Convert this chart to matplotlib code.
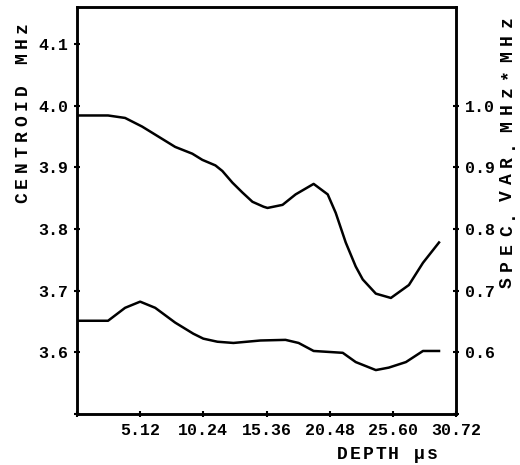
import matplotlib.pyplot as plt

# depth in microseconds and the two traces
depth_top = [0, 2.52, 3.90, 5.28, 6.58, 7.96, 9.35, 10.16, 11.22, 11.78, 12.60,
             13.41, 14.22, 15.12, 15.44, 16.66, 17.72, 19.18, 20.32, 20.97,
             21.78, 22.59, 23.16, 24.22, 25.44, 26.90, 28.04, 29.34]
centroid = [3.984, 3.984, 3.980, 3.966, 3.950, 3.933, 3.922, 3.912, 3.903,
            3.894, 3.875, 3.859, 3.844, 3.836, 3.834, 3.839, 3.856, 3.873,
            3.856, 3.826, 3.778, 3.739, 3.718, 3.695, 3.688, 3.709, 3.745, 3.778]

depth_low = [0, 2.52, 3.90, 5.12, 6.34, 7.96, 9.43, 10.24, 11.38, 12.68, 14.87,
             16.90, 17.96, 19.18, 21.54, 22.59, 24.22, 25.27, 26.66, 28.04, 29.34]
spec_var = [0.651, 0.651, 0.672, 0.682, 0.672, 0.648, 0.630, 0.622, 0.617,
            0.615, 0.619, 0.620, 0.615, 0.602, 0.599, 0.584, 0.571, 0.575,
            0.584, 0.602, 0.602]

x_ticks = [0, 5.12, 10.24, 15.36, 20.48, 25.60, 30.72]
x_labels = ['', '5.12', '10.24', '15.36', '20.48', '25.60', '30.72']
left_ticks = [3.5, 3.6, 3.7, 3.8, 3.9, 4.0, 4.1]
left_labels = ['', '3.6', '3.7', '3.8', '3.9', '4.0', '4.1']
right_ticks = [0.5, 0.6, 0.7, 0.8, 0.9, 1.0]
right_labels = ['', '0.6', '0.7', '0.8', '0.9', '1.0']

mono = 'Liberation Mono'
W, H = 520, 465

fig = plt.figure(figsize=(5.2, 4.65), dpi=100)
ax = fig.add_axes([0.148, 0.11, 0.729, 0.875])
ax2 = ax.twinx()

ax.plot(depth_top, centroid, color='black', lw=1.8)
ax2.plot(depth_low, spec_var, color='black', lw=1.8)

ax.set_xlim(0, 30.72)
ax.set_ylim(3.5, 4.16)
ax2.set_ylim(0.5, 1.16)

ax.set_xticks(x_ticks)
ax.set_xticklabels(x_labels, fontfamily=mono, fontweight='bold', fontsize=12)
ax.set_yticks(left_ticks)
ax.set_yticklabels(left_labels, fontfamily=mono, fontweight='bold', fontsize=12)
ax2.set_yticks(right_ticks)
ax2.set_yticklabels(right_labels, fontfamily=mono, fontweight='bold', fontsize=12)

for a in (ax, ax2):
    for s in a.spines.values():
        s.set_linewidth(1.8)
    a.tick_params(direction='inout', length=5, width=1.5, pad=4)


# the old plotter spaced its letters out, so lay them one by one
def spaced(text, x0, y0, step, vertical):
    for i, ch in enumerate(text):
        if ch == ' ':
            continue
        if vertical:
            x, y, rot = x0, y0 - i * step, 90
        else:
            x, y, rot = x0 + i * step, y0, 0
        fig.text(x / W, 1 - y / H, ch, rotation=rot, rotation_mode='anchor',
                 ha='center', va='baseline', fontfamily=mono,
                 fontweight='bold', fontsize=13)


spaced('CENTROID MHz', 27, 198, 15.5, True)
spaced('SPEC.VAR.MHz*MHz', 512, 283, 17.4, True)
spaced('DEPTH µs', 342, 459, 12.9, False)

fig.savefig('out.png', dpi=100)
